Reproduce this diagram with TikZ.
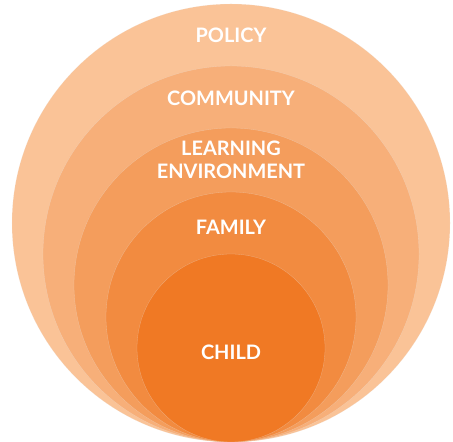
\documentclass[tikz,border=0pt]{standalone}
\usepackage{fontspec}
\setmainfont{Lato}
\definecolor{cPolicy}{RGB}{250,195,151}
\definecolor{cCommunity}{RGB}{247,175,121}
\definecolor{cLearning}{RGB}{244,157,92}
\definecolor{cFamily}{RGB}{242,139,64}
\definecolor{cChild}{RGB}{240,121,36}
\begin{document}
\begin{tikzpicture}[x=1bp,y=1bp,
  ring/.style={circle,inner sep=0pt,minimum size=#1,draw=black!8,line width=0.3bp,draw opacity=0.4},
  lbl/.style={text=white,font=\fontsize{20}{24}\selectfont\bfseries,align=center}]
\useasboundingbox (0,0) rectangle (453,442);
\node[ring=438bp,fill=cPolicy] (policy) at (231,219) {};
\node[ring=376bp,fill=cCommunity] (community) at (231,188) {};
\node[ring=314bp,fill=cLearning] (learning) at (231,157) {};
\node[ring=250bp,fill=cFamily] (family) at (231,125) {};
\node[ring=188bp,fill=cChild] (child) at (231,94) {};
\node[lbl] (tpolicy) at (231,407) {POLICY};
\node[lbl] (tcommunity) at (231,344) {COMMUNITY};
\node[lbl] (tlearning) at (231,282) {LEARNING\\[-1bp]ENVIRONMENT};
\node[lbl] (tfamily) at (231,215) {FAMILY};
\node[lbl] (tchild) at (231,90) {CHILD};
\end{tikzpicture}
\end{document}
